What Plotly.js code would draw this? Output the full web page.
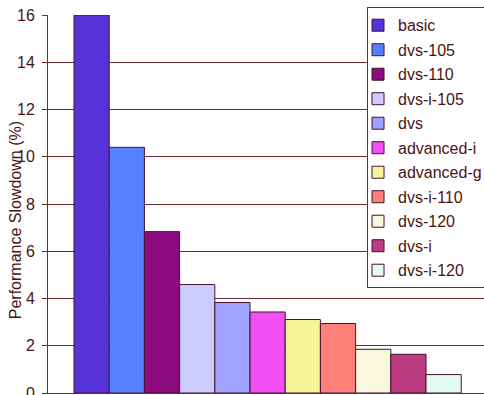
<!DOCTYPE html>
<html>
<head>
<meta charset="utf-8">
<script src="https://cdn.plot.ly/plotly-3.0.1.min.js"></script>
<style>
  html, body { margin: 0; padding: 0; background: #ffffff; }
  #chart { width: 484px; height: 395px; }
</style>
</head>
<body>
<div id="chart"></div>
<script>
// Configurations, in descending order of slowdown
const configs = ['basic', 'dvs-105', 'dvs-110', 'dvs-i-105', 'dvs', 'advanced-i',
                 'advanced-g', 'dvs-i-110', 'dvs-120', 'dvs-i', 'dvs-i-120'];
// Performance slowdown (%)
const slowdown = [16.0, 10.4, 6.83, 4.59, 3.83, 3.43, 3.11, 2.94, 1.85, 1.64, 0.78];
const fills = ['#5533d9', '#5580ff', '#8c0c80', '#cccdfc', '#a0a2ff', '#f04ff4',
               '#f5f597', '#ff8079', '#f8f8de', '#bb3c80', '#e1fcee'];
const yTicks = [0, 2, 4, 6, 8, 10, 12, 14, 16];

const ink = '#4b1414';
const rule = '#6e2c2c';
const font = 'Liberation Sans, Arial, Helvetica, sans-serif';

// one trace per configuration so each gets its own legend entry
const traces = configs.map((name, i) => ({
  type: 'bar',
  name: name,
  legendgroup: name,
  x: [i],
  y: [slowdown[i]],
  width: 1,
  marker: { color: fills[i], line: { color: '#4a1030', width: 1 } },
  hoverinfo: 'name+y'
}));

const layout = {
  width: 484,
  height: 395,
  margin: { l: 48, r: 0, t: 15, b: 2, pad: 0, autoexpand: false },
  paper_bgcolor: '#ffffff',
  plot_bgcolor: '#ffffff',
  barmode: 'overlay',
  showlegend: true,
  font: { family: font, color: ink, size: 16 },
  xaxis: {
    range: [-1.239, 11.147],
    showticklabels: false,
    ticks: '',
    showgrid: false,
    zeroline: false,
    showline: true,
    linecolor: rule,
    linewidth: 1,
    fixedrange: true
  },
  yaxis: {
    range: [0, 16],
    tickvals: yTicks,
    ticktext: yTicks.map(String),
    ticks: 'outside',
    ticklen: 5,
    tickcolor: rule,
    tickwidth: 1,
    ticklabelstandoff: 4,
    ticklabeloverflow: 'allow',
    tickfont: { family: font, size: 16, color: ink },
    showgrid: true,
    gridcolor: rule,
    gridwidth: 1,
    zeroline: false,
    showline: true,
    linecolor: rule,
    linewidth: 1,
    automargin: false,
    fixedrange: true
  },
  // y-axis caption, set a little below the plot's vertical centre
  annotations: [{
    text: 'Performance Slowdown (%)',
    textangle: -90,
    xref: 'paper', yref: 'paper',
    x: 0, y: 0.457,
    xanchor: 'center', yanchor: 'middle',
    xshift: -33,
    showarrow: false,
    font: { family: font, size: 16, color: ink }
  }],
  legend: {
    x: 0.7317,
    y: 1.0203,
    xanchor: 'left',
    yanchor: 'top',
    maxheight: 1,
    indentation: -10,
    traceorder: 'grouped',
    tracegroupgap: 0.7,
    bgcolor: '#ffffff',
    bordercolor: rule,
    borderwidth: 1,
    font: { family: font, size: 16, color: ink }
  }
};

Plotly.newPlot('chart', traces, layout, { staticPlot: true, displayModeBar: false });
</script>
</body>
</html>
